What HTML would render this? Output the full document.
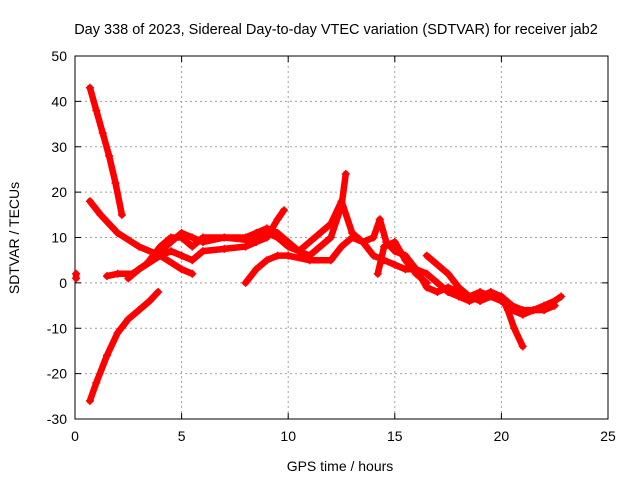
<!DOCTYPE html>
<html><head><meta charset="utf-8"><style>body{margin:0;background:#fff}svg{display:block;font-family:"Liberation Sans",sans-serif}</style></head>
<body>
<svg id="chart" width="640" height="480" xmlns="http://www.w3.org/2000/svg">
<rect width="640" height="480" fill="#fff"/>
<text x="336" y="34" font-size="14.5" text-anchor="middle">Day 338 of 2023, Sidereal Day-to-day VTEC variation (SDTVAR) for receiver jab2</text>
<g id="grid"></g><g id="axes"></g><g id="series"></g>
<text x="340" y="471" font-size="14" text-anchor="middle">GPS time / hours</text>
<text transform="translate(19,238) rotate(-90)" font-size="14" text-anchor="middle">SDTVAR / TECUs</text>
</svg>
<script>
const xTicks=[0,5,10,15,20,25];
const yTicks=[-30,-20,-10,0,10,20,30,40,50];
const s1=[[0.7,43],[1.0,38],[1.3,33],[1.6,28],[1.9,22],[2.2,15]];
const s2=[[0.7,18],[1.2,15],[2,11],[3,8],[4,6],[5,3],[5.5,2]];
const s3=[[0.7,-26],[1,-22],[1.5,-16],[2,-11],[2.5,-8],[3,-6],[3.5,-4],[3.9,-2]];
const s4=[[1.5,1.5],[2,2],[2.7,2],[3.3,4],[4,7],[4.5,9],[5,11],[5.5,10],[6,9],[7,10],[8,9.5],[9,11],[9.5,10],[10,8],[11,6],[12,10],[12.5,17],[12.7,24]];
const s5=[[2.5,1],[3,3],[4,6],[4.5,7],[5,6],[5.5,5],[6,7],[7,7.5],[8,8],[8.5,9],[9,10],[9.5,14],[9.8,16]];
const s6=[[3.5,5],[4,8],[4.5,10],[5,10],[5.5,8],[6,10],[7,10],[8,10],[8.5,11],[9,12],[9.5,11],[10,9],[10.5,7],[11,9],[12,13],[12.5,18],[13,11],[13.5,9],[14,10],[14.3,14],[14.6,9],[15,7],[15.5,6],[16,3],[16.5,2],[17,0],[17.5,-2],[18,-3],[18.5,-4],[19,-3],[19.5,-2],[20,-3],[20.5,-5],[21,-6],[21.5,-6],[22,-5],[22.5,-4],[22.8,-3]];
const s7=[[8,0],[8.5,3],[9,5],[9.5,6],[10,6],[11,5],[12,5],[12.5,8],[13,10],[13.5,9],[14,6],[14.5,5],[15,4],[15.5,3],[16,3],[16.5,-1],[17,-2],[17.5,-1],[18,-2],[18.5,-3],[19,-4],[19.5,-3],[20,-3],[20.3,-6],[20.6,-10],[21,-14]];
const s8=[[16.5,6],[17,4],[17.5,2],[18,-1],[18.5,-3],[19,-2],[19.5,-3],[20,-4],[20.5,-6],[21,-7],[21.5,-6],[22,-6],[22.5,-5]];
const s9=[[0.05,1],[0.05,2]];
const s10=[[14.2,2],[14.5,8],[15,9],[15.5,5],[16,2],[16.5,0]];
const seriesList=[s1,s2,s3,s4,s5,s6,s7,s8,s9,s10];
const X0=75,X1=608,Y0=419,Y1=56;
const xs=v=>X0+(v-0)/(25-0)*(X1-X0);
const ys=v=>Y0-(v+30)/(80)*(Y0-Y1);
const NS="http://www.w3.org/2000/svg";
function mk(t,a,p){const e=document.createElementNS(NS,t);for(const k in a)e.setAttribute(k,a[k]);p.appendChild(e);return e;}
const grid=document.getElementById('grid'),axes=document.getElementById('axes'),ser=document.getElementById('series');
xTicks.forEach(t=>{const x=xs(t);
 if(t>0&&t<25){const g=mk('line',{x1:x,x2:x,y1:Y1,y2:Y0,stroke:'#a0a0a0','stroke-dasharray':'2,3'},grid);}
 const tl=mk('text',{x:x,y:Y0+22,'font-size':14,'text-anchor':'middle'},axes);tl.textContent=t;
 
 mk('line',{x1:x,x2:x,y1:Y0,y2:Y0-6,stroke:'#000'},axes);mk('line',{x1:x,x2:x,y1:Y1,y2:Y1+6,stroke:'#000'},axes);});
yTicks.forEach(t=>{const y=ys(t);
 if(t>-30&&t<50){const g=mk('line',{x1:X0,x2:X1,y1:y,y2:y,stroke:'#a0a0a0','stroke-dasharray':'2,3'},grid);}
 const tl=mk('text',{x:X0-8,y:y+5,'font-size':14,'text-anchor':'end'},axes);tl.textContent=t;
 
 mk('line',{x1:X0,x2:X0+6,y1:y,y2:y,stroke:'#000'},axes);mk('line',{x1:X1,x2:X1-6,y1:y,y2:y,stroke:'#000'},axes);});
const fr=mk('rect',{x:X0,y:Y1,width:X1-X0,height:Y0-Y1,fill:'none',stroke:'#000'},axes);

seriesList.forEach((s,i)=>{
 const pl=mk('polyline',{points:s.map(p=>xs(p[0])+','+ys(p[1])).join(' '),fill:'none',stroke:'#ff0000','stroke-width':6.5,'stroke-linejoin':'round','stroke-linecap':'round'},ser);
 
 
 s.forEach(p=>{const x=xs(p[0]),y=ys(p[1]);
  mk('path',{d:`M${x-4},${y}h8M${x},${y-4}v8`,stroke:'#ff0000','stroke-width':1.5},ser);});
});
</script>
</body></html>
